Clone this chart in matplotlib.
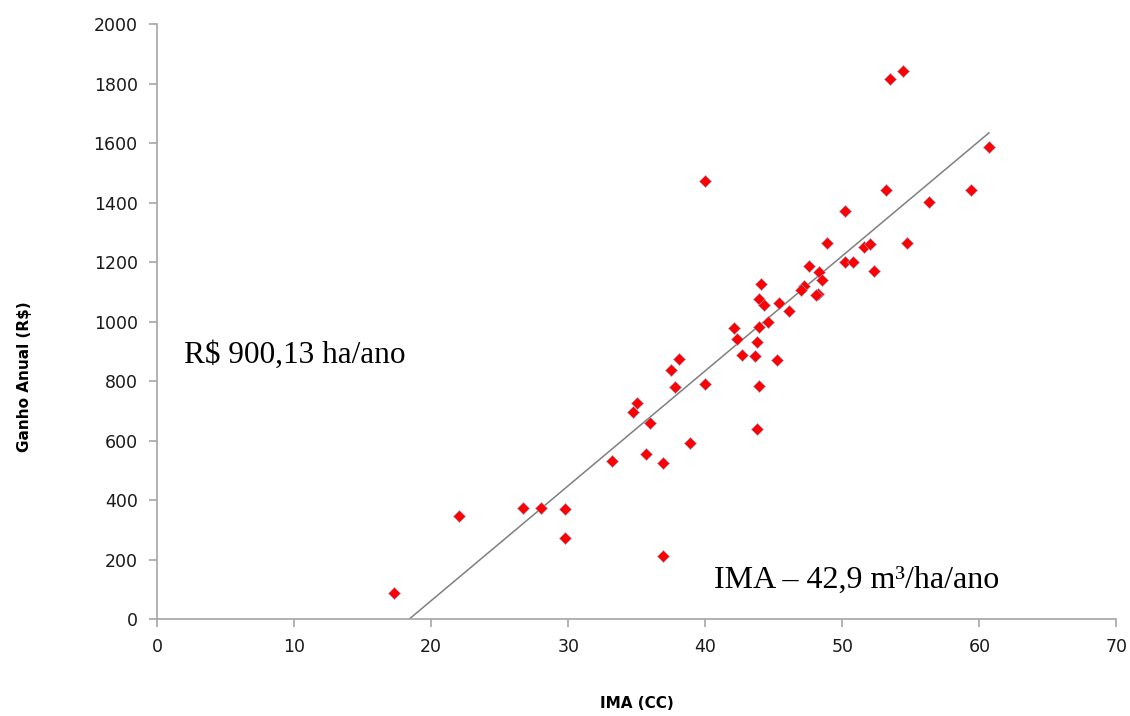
import numpy as np
import matplotlib.pyplot as plt


ima = [
    17.3, 22.0, 26.7, 28.0, 29.8, 29.8, 36.9, 33.2, 35.7, 36.9,
    38.9, 43.8, 34.7, 35.0, 36.0, 37.5, 38.1, 37.8, 40.0, 43.9,
    45.2, 42.7, 43.6, 42.3, 43.8, 40.0, 53.2, 50.2, 48.9, 54.7,
    51.6, 52.0, 47.6, 50.2, 50.8, 52.3, 48.3, 48.5, 47.2, 47.0,
    48.2, 48.1, 44.1, 43.9, 44.3, 45.4, 46.1, 44.6, 43.9, 42.1,
    53.5, 54.4, 60.7, 59.4, 56.3,
]
ganho = [
    87, 346, 374, 374, 369, 271, 212, 533, 555, 525,
    592, 639, 697, 727, 658, 838, 875, 779, 792, 782,
    870, 887, 886, 941, 931, 1473, 1443, 1371, 1266, 1263,
    1252, 1262, 1188, 1200, 1200, 1172, 1168, 1141, 1121, 1107,
    1093, 1089, 1125, 1076, 1057, 1063, 1037, 999, 981, 979,
    1815, 1844, 1589, 1443, 1403,
]

x_ticks = list(range(0, 71, 10))
y_ticks = list(range(0, 2001, 200))

fig = plt.figure(figsize=(11.3, 7.16), dpi=100)
ax = fig.add_axes([0.139, 0.1355, 0.849, 0.8305])

# linha de tendencia (regressao linear)
x = np.array(ima)
y = np.array(ganho)
coef = np.polyfit(x, y, 1)
xl = np.array([x.min(), x.max()])
ax.plot(xl, np.polyval(coef, xl), color='#7f7f7f', linewidth=1.1, zorder=2)

ax.scatter(x, y, marker='D', s=38, color='#ff0000',
           edgecolors='#99aacc', linewidths=0.4, zorder=3)

ax.set_xlim(0, 70)
ax.set_ylim(0, 2000)
ax.set_xticks(x_ticks)
ax.set_yticks(y_ticks)

for s in ['top', 'right']:
    ax.spines[s].set_visible(False)
for s in ['left', 'bottom']:
    ax.spines[s].set_color('#a6a6a6')
    ax.spines[s].set_linewidth(1.2)
ax.tick_params(axis='both', direction='out', length=6, color='#a6a6a6',
               width=1.2, labelsize=12.5, labelcolor='#1a1a1a', pad=8)

ax.set_xlabel('IMA (CC)', fontsize=11, fontweight='bold')
ax.set_ylabel('Ganho Anual (R$)', fontsize=11, fontweight='bold')
ax.xaxis.set_label_coords(0.5, -0.129)
ax.yaxis.set_label_coords(-0.13, 0.407)

ax.text(2.0, 887, 'R$ 900,13 ha/ano', family='Liberation Serif',
        fontsize=22.5, va='center', ha='left')
ax.text(40.6, 131, 'IMA \u2013 42,9 m\u00b3/ha/ano', family='Liberation Serif',
        fontsize=23, va='center', ha='left')

fig.savefig('out.png', dpi=100)
